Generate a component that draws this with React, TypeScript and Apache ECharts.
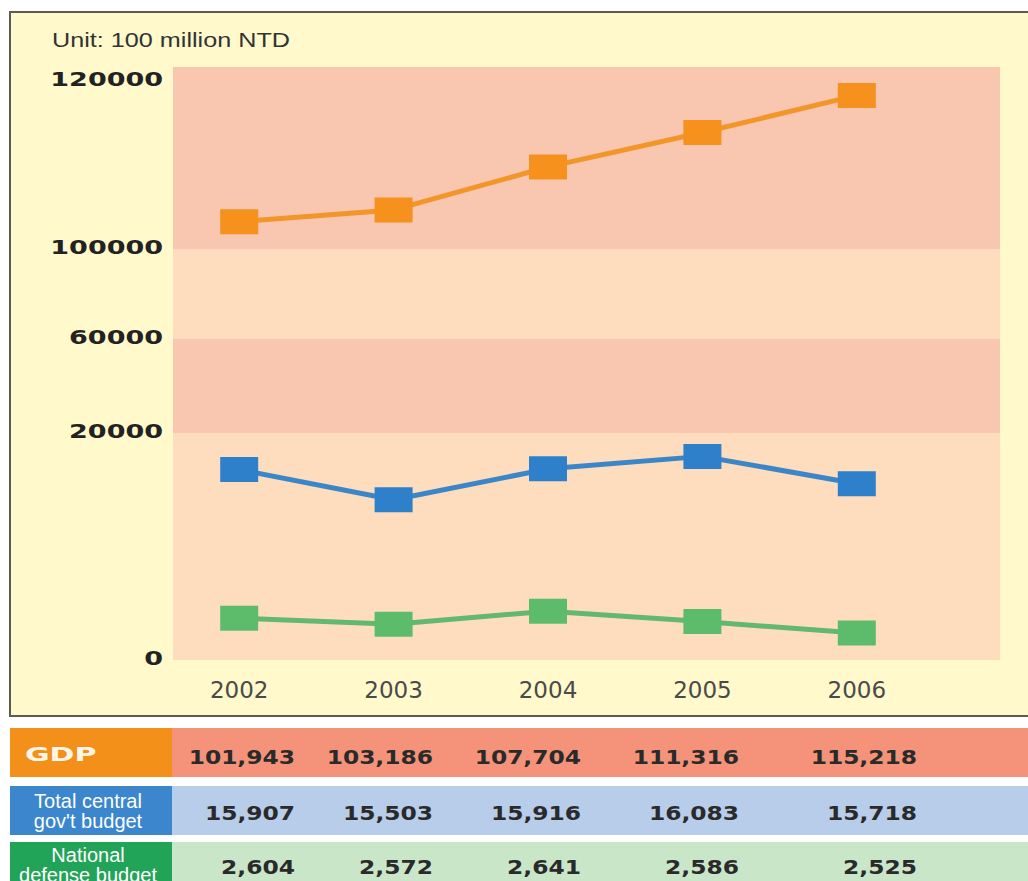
import React, { useEffect, useRef } from "react";
import * as echarts from "echarts";

// ---------- data ----------
const years = ["2002", "2003", "2004", "2005", "2006"];
const gdp = [101943, 103186, 107704, 111316, 115218];
const centralBudget = [15907, 15503, 15916, 16083, 15718];
const defenseBudget = [2604, 2572, 2641, 2586, 2525];
const yTicks = [0, 20000, 60000, 100000, 120000];
const unitLabel = "Unit: 100 million NTD";
const rowLabels = ["GDP", "Total central\ngov't budget", "National\ndefense budget"];

// ---------- layout / style ----------
const SEGMENT_PX = [227, 94, 90, 182]; // drawn height of each segment of the broken axis
const BAND_COLORS = ["#FDDDBE", "#F9C6B0", "#FDDDBE", "#F9C6B0"];
const SERIES_COLORS = ["#F5911C", "#2F80CB", "#5DBC6C"];
const LINE_COLORS = ["#F3962A", "#3A86C8", "#62B86E"];
// per-series scale ranges (the original exaggerates each line separately)
const SERIES_RANGES = [
  [55900, 118200],
  [13360, 21290],
  [2383, 5514],
];
const ROW_LABEL_FILL = ["#F39019", "#3B86CC", "#22A458"];
const ROW_DATA_FILL = ["#F4937A", "#B8CDEA", "#C9E6C9"];
const ROW_TOP = [728, 786, 842];
const ROW_H = [49, 49, 40];
const ROW_TEXT_Y = [757, 813, 867];
const COL_RIGHT = [295, 433, 581, 739, 917];

const TOTAL_DISP = SEGMENT_PX.reduce((a, b) => a + b, 0);
function disp(v: number): number {
  let acc = 0;
  for (let i = 0; i < SEGMENT_PX.length; i++) {
    const lo = yTicks[i];
    const hi = yTicks[i + 1];
    if (v <= hi || i === SEGMENT_PX.length - 1) {
      return acc + ((v - lo) / (hi - lo)) * SEGMENT_PX[i];
    }
    acc += SEGMENT_PX[i];
  }
  return acc;
}

const fmt = (v: number) => v.toLocaleString("en-US");

export default function App() {
  const ref = useRef<HTMLDivElement>(null);

  useEffect(() => {
    const chart = echarts.init(ref.current!, null, { renderer: "svg" });
    const seriesData = [gdp, centralBudget, defenseBudget];

    chart.setOption({
      animation: false,
      backgroundColor: "#ffffff",
      grid: [
        { left: 173, right: 28, top: 67, bottom: 221 },
        { left: 162, right: 94, top: 67, bottom: 221 },
      ],
      xAxis: [
        { type: "value", gridIndex: 0, min: 0, max: 1, show: false },
        {
          type: "category",
          gridIndex: 1,
          data: years,
          boundaryGap: true,
          axisLine: { show: false },
          axisTick: { show: false },
          splitLine: { show: false },
          axisLabel: {
            fontFamily: "DejaVu Sans",
            fontSize: 23,
            color: "#4a4a4a",
            margin: 18,
          },
        },
      ],
      yAxis: [
        { type: "value", gridIndex: 0, min: 0, max: TOTAL_DISP, show: false },
        ...SERIES_RANGES.map((r) => ({
          type: "value",
          gridIndex: 1,
          min: r[0],
          max: r[1],
          show: false,
        })),
      ],
      series: [
        {
          type: "line",
          xAxisIndex: 0,
          yAxisIndex: 0,
          data: [[0, 0]],
          showSymbol: false,
          silent: true,
          lineStyle: { opacity: 0 },
          z: 1,
          markArea: {
            silent: true,
            label: { show: false },
            data: BAND_COLORS.map((c, i) => [
              { yAxis: disp(yTicks[i]), itemStyle: { color: c } },
              { yAxis: disp(yTicks[i + 1]) },
            ]),
          },
        },
        ...seriesData.map((d, i) => ({
          type: "line",
          xAxisIndex: 1,
          yAxisIndex: i + 1,
          data: d,
          symbol: "rect",
          symbolSize: [38, 25],
          z: 5,
          itemStyle: { color: SERIES_COLORS[i], opacity: 1 },
          lineStyle: { color: LINE_COLORS[i], width: 5 },
        })),
      ],
    });

    const g: any[] = [];
    // frame of chart area
    g.push({
      type: "rect",
      z: -10,
      shape: { x: 10, y: 12, width: 1030, height: 704 },
      style: { fill: "#FFF9CB", stroke: "#5b5b4f", lineWidth: 2 },
    });
    // unit text
    g.push({
      type: "text",
      z: 10,
      x: 52,
      y: 40,
      scaleX: 1.2,
      style: {
        text: unitLabel,
        font: '21px "Liberation Sans"',
        fill: "#333333",
        textAlign: "left",
        textVerticalAlign: "middle",
        verticalAlign: "middle",
      },
    });
    // y tick labels on the broken axis
    yTicks.forEach((t, i) => {
      const py = chart.convertToPixel({ yAxisIndex: 0 }, disp(t)) as number;
      const isMax = i === yTicks.length - 1;
      g.push({
        type: "text",
        z: 10,
        x: 163,
        y: isMax ? py + 2 : py - 2,
        scaleX: 1.35,
        style: {
          text: String(t),
          font: 'bold 20px "DejaVu Sans"',
          fill: "#222222",
          textAlign: "right",
          textVerticalAlign: isMax ? "top" : "middle",
          verticalAlign: isMax ? "top" : "middle",
        },
      });
    });
    // table
    rowLabels.forEach((lab, r) => {
      g.push({
        type: "rect",
        z: 1,
        shape: { x: 10, y: ROW_TOP[r], width: 162, height: ROW_H[r] },
        style: { fill: ROW_LABEL_FILL[r] },
      });
      g.push({
        type: "rect",
        z: 1,
        shape: { x: 172, y: ROW_TOP[r], width: 860, height: ROW_H[r] },
        style: { fill: ROW_DATA_FILL[r] },
      });
      if (r === 0) {
        g.push({
          type: "text",
          z: 10,
          x: 25,
          y: 754,
          scaleX: 1.5,
          style: {
            text: lab,
            font: 'bold 20px "DejaVu Sans"',
            fill: "#FFF6EA",
            textAlign: "left",
            textVerticalAlign: "middle",
            verticalAlign: "middle",
          },
        });
      } else {
        g.push({
          type: "text",
          z: 10,
          x: 88,
          y: r === 1 ? 791 : 845,
          style: {
            text: lab,
            font: '20px "Liberation Sans"',
            lineHeight: 20,
            fill: "#FFFFFF",
            textAlign: "center",
            textVerticalAlign: "top",
            verticalAlign: "top",
          },
        });
      }
      seriesData[r].forEach((v, c) => {
        g.push({
          type: "text",
          z: 10,
          x: COL_RIGHT[c],
          y: ROW_TEXT_Y[r],
          scaleX: 1.23,
          style: {
            text: fmt(v),
            font: 'bold 19px "DejaVu Sans"',
            fill: "#2a2a2a",
            textAlign: "right",
            textVerticalAlign: "middle",
            verticalAlign: "middle",
          },
        });
      });
    });

    chart.setOption({ graphic: { elements: g } });
    return () => chart.dispose();
  }, []);

  return (
    <div
      ref={ref}
      style={{ position: "fixed", left: 0, top: 0, width: 1028, height: 881 }}
    />
  );
}
